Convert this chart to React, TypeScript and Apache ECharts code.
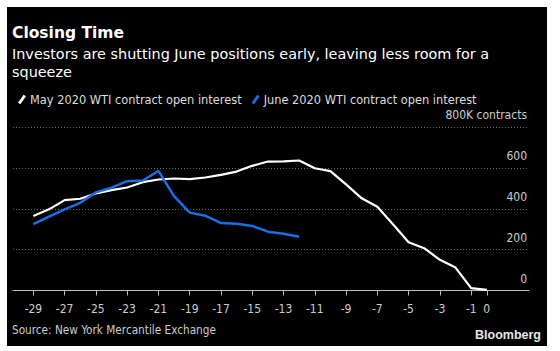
import React, { useEffect, useRef } from "react";
import * as echarts from "echarts";

const days: number[] = [-29, -28, -27, -26, -25, -24, -23, -22, -21, -20, -19, -18, -17, -16, -15, -14, -13, -12, -11, -10, -9, -8, -7, -6, -5, -4, -3, -2, -1, 0];
const mayOpenInterest: number[] = [364, 397, 442, 449, 475, 491, 504, 530, 543, 548, 545, 553, 566, 582, 610, 631, 632, 636, 598, 584, 519, 451, 410, 324, 236, 207, 150, 112, 12, 3];
const juneOpenInterest: number[] = [325, 361, 397, 429, 480, 503, 535, 538, 585, 462, 381, 366, 330, 327, 316, 288, 278, 263];
const xTickLabels: number[] = [-29, -27, -25, -23, -21, -19, -17, -15, -13, -11, -9, -7, -5, -3, -1, 0];
const yTicks: number[] = [0, 200, 400, 600, 800];

const FONT = "'DejaVu Sans', sans-serif";
const FONT_C = "'DejaVu Sans Condensed', 'DejaVu Sans', sans-serif";

export default function App() {
  const ref = useRef<HTMLDivElement>(null);
  useEffect(() => {
    document.body.style.margin = "0";
    if (!ref.current) return;
    const chart = echarts.init(ref.current, null, { renderer: "svg" });
    const may = days.map((d, i) => [d, mayOpenInterest[i]]);
    const june = juneOpenInterest.map((v, i) => [days[i], v]);
    chart.setOption({
      animation: false,
      backgroundColor: "#ffffff",
      textStyle: { fontFamily: FONT },
      graphic: [
        { type: "rect", z: -10, shape: { x: 7, y: 7, width: 540, height: 339 }, style: { fill: "#000000" } },
        { type: "text", left: 12, top: 25, style: { text: "Closing Time", fill: "#ffffff", font: `bold 15.5px ${FONT}` } },
        { type: "text", left: 12, top: 45, style: { text: "Investors are shutting June positions early, leaving less room for a\nsqueeze", fill: "#ffffff", font: `14.4px ${FONT}`, lineHeight: 18 } },
        { type: "text", left: 12, top: 324, style: { text: "Source: New York Mercantile Exchange", fill: "#cccccc", font: `11.7px ${FONT_C}` } },
        { type: "text", right: 19, top: 328, style: { text: "Bloomberg", fill: "#e6e6e6", font: `bold 12.5px 'Liberation Sans', Arial, sans-serif` } },
      ],
      legend: {
        left: 13,
        top: 89,
        itemWidth: 8,
        itemHeight: 11,
        itemGap: 10,
        icon: "path://M7,0 L10,2 L3,12 L0,10 Z",
        textStyle: { color: "#dddddd", fontSize: 11.4, fontFamily: FONT, padding: [0, 0, 0, -1] },
        data: ["May 2020 WTI contract open interest", "June 2020 WTI contract open interest"],
      },
      grid: { left: 13, top: 127, width: 516, height: 163.5, containLabel: false },
      xAxis: {
        type: "value",
        min: -30.3,
        max: 2.7,
        splitLine: { show: false },
        axisLine: { show: true, lineStyle: { color: "#bbbbbb", width: 1 } },
        axisTick: { show: true, length: 5, lineStyle: { color: "#bbbbbb" }, customValues: xTickLabels },
        axisLabel: { color: "#cccccc", fontSize: 12, margin: 12, customValues: xTickLabels, fontFamily: FONT_C },
      },
      yAxis: {
        type: "value",
        position: "right",
        min: 0,
        max: 800,
        interval: 200,
        axisLine: { show: false },
        axisTick: { show: false },
        splitLine: { show: true, lineStyle: { color: "#6a6a6a", type: [1, 2], width: 1 } },
        axisLabel: {
          inside: true,
          margin: 2,
          color: "#cccccc",
          fontSize: 12,
          fontFamily: FONT_C,
          verticalAlign: "bottom",
          padding: [0, 0, 6, 0],
          customValues: yTicks,
          formatter: (v: number) => (v === 800 ? "800K contracts" : String(v)),
        },
      },
      series: [
        {
          name: "May 2020 WTI contract open interest",
          type: "line",
          data: may,
          symbol: "none",
          lineStyle: { color: "#ffffff", width: 2.2 },
          itemStyle: { color: "#ffffff" },
          z: 2,
        },
        {
          name: "June 2020 WTI contract open interest",
          type: "line",
          data: june,
          symbol: "none",
          lineStyle: { color: "#1a6fe6", width: 2.5 },
          itemStyle: { color: "#1a6fe6" },
          z: 3,
        },
      ],
    });
    return () => chart.dispose();
  }, []);
  return <div ref={ref} style={{ width: 560, height: 351 }} />;
}
